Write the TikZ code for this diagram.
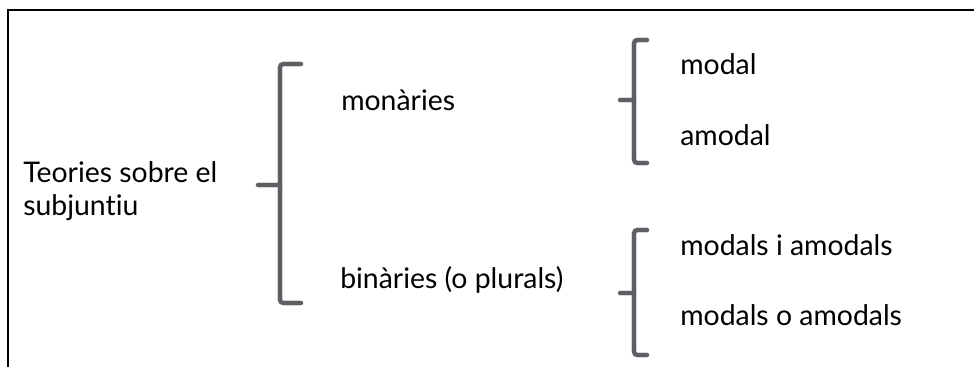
\documentclass[tikz,border=0pt]{standalone}
\usepackage{fontspec}
\setmainfont{Lato}[Ligatures=NoCommon]
\usepackage{xcolor}
\definecolor{bracegray}{HTML}{5E5F64}

\tikzset{
  lbl/.style={anchor=base west,inner sep=0pt,align=left,
    font=\fontsize{21.3}{24.75}\selectfont},
  brk/.style={draw=bracegray,line width=3.2pt,line cap=round,rounded corners=2.5pt},
  brkshade/.style={draw=black,opacity=0.15,line width=3.8pt,line cap=round,rounded corners=2.5pt}
}

\begin{document}
\begin{tikzpicture}[x=0.75pt,y=-0.75pt]
  \useasboundingbox (0,0) rectangle (974,367);
  % frame, cut off on the right and at the bottom
  \draw[line width=1.5pt] (7.5,420) -- (7.5,10) -- (1020,10);
  % braces: x / top / middle / bottom / tick length
  \foreach \bx/\btop/\bmid/\bbot/\btick/\bname in
      {280/64/185/303/21/root, 634/40/100/163/13/mon, 634/230/293/355/13/bin}{
    \coordinate (\bname-top) at (\bx+\btick,\btop);
    \coordinate (\bname-bot) at (\bx+\btick,\bbot);
    \coordinate (\bname-tip) at (\bx-\btick-1,\bmid);
    \coordinate (\bname-mid) at (\bx,\bmid);
    \draw[brkshade,shift={(2,3)}] (\bname-top) -| (\bname-mid) |- (\bname-bot);
    \draw[brkshade,shift={(2,3)}] (\bname-mid) -- (\bname-tip);
    \draw[brk] (\bname-top) -| (\bname-mid) |- (\bname-bot);
    \draw[brk] (\bname-mid) -- (\bname-tip);
  }
  % base anchor of a two-line node sits on its last line
  \node[lbl] (root) at (23,215) {Teories sobre el\\subjuntiu};
  \node[lbl] (mon) at (341,111) {monàries};
  \node[lbl] (bin) at (340,288) {binàries (o plurals)};
  \node[lbl] (modal) at (680,75) {modal};
  \node[lbl] (amodal) at (680,146) {amodal};
  \node[lbl] (mia) at (680,255) {modals i amodals};
  \node[lbl] (moa) at (680,325) {modals o amodals};
\end{tikzpicture}
\end{document}
